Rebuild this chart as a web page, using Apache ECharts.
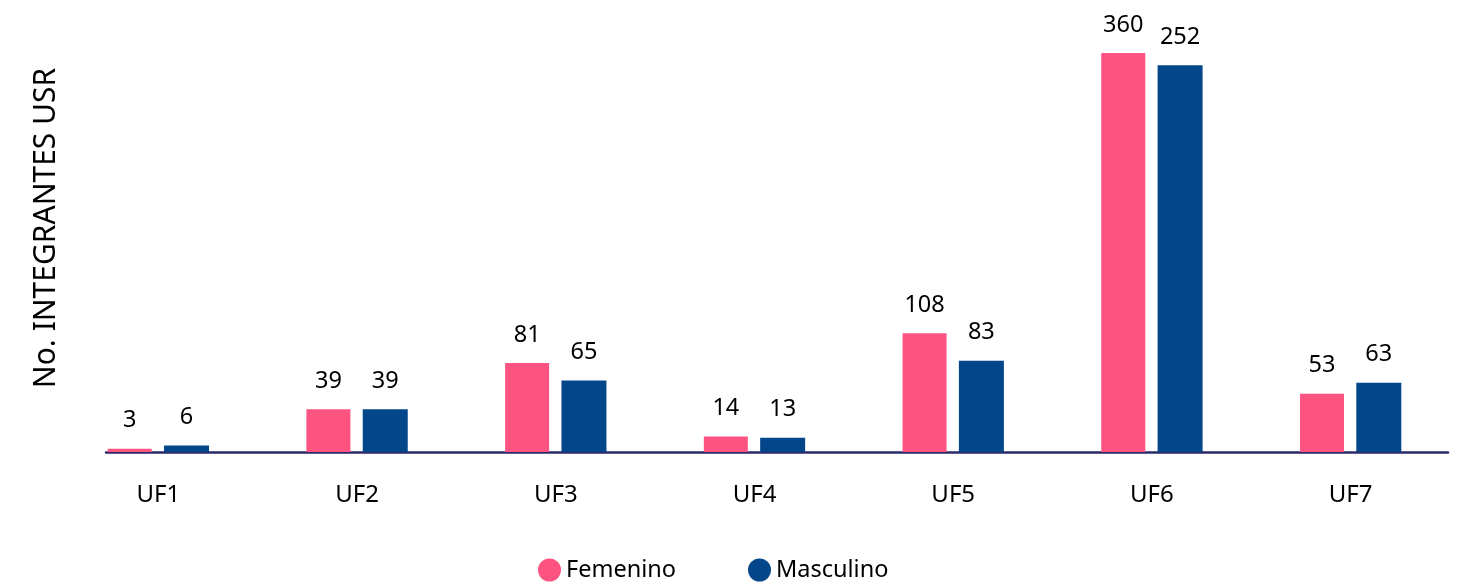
<!DOCTYPE html>
<html>
<head>
<meta charset="utf-8">
<script src="https://cdn.jsdelivr.net/npm/echarts@6/dist/echarts.min.js"></script>
<style>
  html, body { margin: 0; padding: 0; background: #fff; }
  #chart { width: 1464px; height: 588px; }
</style>
</head>
<body>
<div id="chart"></div>
<script>
  var categories = ['UF1', 'UF2', 'UF3', 'UF4', 'UF5', 'UF6', 'UF7'];
  var femenino = [3, 39, 81, 14, 108, 363, 53];
  var femeninoLabels = [3, 39, 81, 14, 108, 360, 53];
  // bar for UF6 is drawn much taller than its 252 label in the picture
  var masculino = [6, 39, 65, 13, 83, 352, 63];
  var masculinoLabels = [6, 39, 65, 13, 83, 252, 63];

  var chart = echarts.init(document.getElementById('chart'));
  var font = 'Noto Sans';

  function labelOf(arr) {
    return {
      show: true,
      position: 'top',
      distance: 16,
      color: '#000',
      fontSize: 23.5,
      fontFamily: font,
      formatter: function (p) { return arr[p.dataIndex]; }
    };
  }

  chart.setOption({
    animation: false,
    legend: {
      left: 533,
      top: 553,
      icon: 'circle',
      itemWidth: 23,
      itemHeight: 23,
      itemGap: 72,
      textStyle: { fontSize: 23.5, color: '#000', fontFamily: font },
      data: ['Femenino', 'Masculino']
    },
    grid: [
      { left: 59, right: 14, top: 30, bottom: 136 },
      { left: 106, right: 16, top: 30, bottom: 136 }
    ],
    xAxis: [{
      type: 'category',
      gridIndex: 0,
      data: categories,
      axisLine: { show: false },
      axisTick: { show: false },
      axisLabel: { margin: 31, fontSize: 24, color: '#000', fontFamily: font }
    }, {
      type: 'value',
      gridIndex: 1,
      axisLine: { show: true, lineStyle: { color: '#2b2a6a', width: 2.5 } },
      axisTick: { show: false },
      axisLabel: { show: false },
      splitLine: { show: false }
    }],
    yAxis: [{
      type: 'value',
      gridIndex: 0,
      min: 0,
      max: 384,
      name: 'No. INTEGRANTES USR',
      nameLocation: 'middle',
      nameGap: -2,
      nameTextStyle: { fontSize: 30, color: '#000', fontFamily: font, padding: [0, 0, 0, 26] },
      axisLine: { show: false },
      axisTick: { show: false },
      axisLabel: { show: false },
      splitLine: { show: false }
    }, {
      type: 'value',
      gridIndex: 1,
      show: false
    }],
    series: [{
      name: 'Femenino',
      type: 'bar',
      data: femenino,
      barWidth: 44,
      barGap: '28%',
      itemStyle: { color: '#fd5380' },
      label: labelOf(femeninoLabels)
    }, {
      name: 'Masculino',
      type: 'bar',
      data: masculino,
      barWidth: 45,
      barGap: '28%',
      itemStyle: { color: '#034689' },
      label: labelOf(masculinoLabels)
    }]
  });
</script>
</body>
</html>
